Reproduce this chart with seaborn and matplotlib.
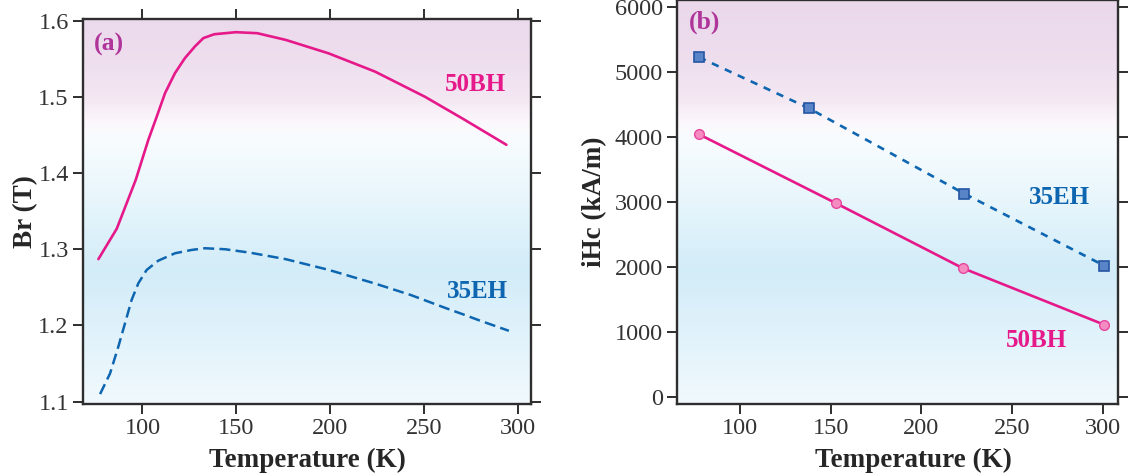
import numpy as np
import pandas as pd
import matplotlib
matplotlib.use("Agg")
import matplotlib.pyplot as plt
import seaborn as sns

# ---------------- data ----------------
# (a) Br vs temperature
br_50bh_T = [76.5, 86.3, 96.4, 103.1, 107.6, 112.0, 117.3, 122.6, 127.9, 132.4, 138.2, 149.7,
             161.1, 176.3, 199.1, 223.9, 250.5, 271.5, 293.9]
br_50bh = [1.287, 1.327, 1.391, 1.4434, 1.474, 1.5047, 1.531, 1.5507, 1.5659, 1.5769, 1.582, 1.5847,
           1.5834, 1.5746, 1.557, 1.533, 1.500, 1.470, 1.437]
br_35eh_T = [77.4, 82.7, 87.1, 90.7, 94.2, 97.8, 102.2, 108.4, 117.3, 126.2, 133.3, 144, 157.3,
             176.3, 199.1, 223.9, 242.9, 261.9, 271.5, 279.1, 295.2]
br_35eh = [1.110, 1.137, 1.172, 1.203, 1.2335, 1.2554, 1.2728, 1.285, 1.2947, 1.2991, 1.3013, 1.300,
           1.2955, 1.287, 1.273, 1.255, 1.240, 1.2225, 1.214, 1.207, 1.193]

# (b) iHc vs temperature
ihc_35eh_T = [77.5, 138, 223.5, 300.6]
ihc_35eh = [5230, 4445, 3130, 2020]
ihc_50bh_T = [77.5, 153, 222.8, 300.6]
ihc_50bh = [4043, 2980, 1980, 1110]

x_ticks = [100, 150, 200, 250, 300]
br_ticks = [1.1, 1.2, 1.3, 1.4, 1.5, 1.6]
ihc_ticks = [0, 1000, 2000, 3000, 4000, 5000, 6000]

# ---------------- style ----------------
sns.set_style("ticks")
plt.rcParams['font.family'] = ['Liberation Serif', 'DejaVu Serif']

PINK = "#e6198a"
BLUE = "#0e66b0"
PURPLE = "#b0359a"
SPINE = "#2e2e2e"

W, H = 1128, 476
fig = plt.figure(figsize=(W / 100, H / 100), dpi=100)

def axes_px(x0, x1, y_top, y_bot):
    return fig.add_axes([x0 / W, 1 - y_bot / H, (x1 - x0) / W, (y_bot - y_top) / H])

axA = axes_px(83, 531, 19, 404)
axB = axes_px(677, 1118, 0, 404)

# background vertical gradient (figure pixel rows -> colour)
stops_px = [0, 60, 100, 122, 140, 200, 270, 340, 404]
stops_rgb = [(234, 216, 234), (238, 222, 238), (244, 232, 243), (252, 248, 252),
             (248, 252, 254), (232, 246, 252), (210, 236, 248), (226, 243, 251), (241, 249, 253)]

def gradient(ax, y_top, y_bot):
    rows = np.linspace(y_top, y_bot, 300)
    arr = np.zeros((300, 1, 3))
    for c in range(3):
        arr[:, 0, c] = np.interp(rows, stops_px, [s[c] for s in stops_rgb]) / 255
    ax.imshow(arr, extent=[0, 1, 0, 1], transform=ax.transAxes, aspect='auto',
              zorder=0, interpolation='bilinear')

gradient(axA, 19, 404)
gradient(axB, 0, 404)

TICK_FS = 17.5
LABEL_FS = 19.5
ANN_FS = 18

# ---------------- panel (a) ----------------
dfa1 = pd.DataFrame({"T": br_50bh_T, "Br": br_50bh})
dfa2 = pd.DataFrame({"T": br_35eh_T, "Br": br_35eh})
sns.lineplot(data=dfa1, x="T", y="Br", ax=axA, color=PINK, lw=1.9, sort=False, zorder=3)
sns.lineplot(data=dfa2, x="T", y="Br", ax=axA, color=BLUE, lw=1.8, sort=False, zorder=3,
             linestyle=(0, (4.4, 2.1)))
axA.set_xlim(68.3, 307)
axA.set_ylim(1.097, 1.602)
axA.set_xticks(x_ticks)
axA.set_yticks(br_ticks)
axA.set_yticklabels([f"{v:.1f}" for v in br_ticks])
axA.set_xlabel("Temperature (K)", fontsize=LABEL_FS, fontweight='bold')
axA.set_ylabel("Br (T)", fontsize=LABEL_FS, fontweight='bold')
axA.xaxis.set_label_coords(0.5, -0.1135)
axA.yaxis.set_label_coords(-0.100, 0.5)
axA.text(74, 1.568, "(a)", color=PURPLE, fontsize=18.5, fontweight='bold', va='center', ha='left')
axA.text(261, 1.5156, "50BH", color=PINK, fontsize=ANN_FS, fontweight='bold', va='center', ha='left')
axA.text(262, 1.2444, "35EH", color=BLUE, fontsize=ANN_FS, fontweight='bold', va='center', ha='left')

# ---------------- panel (b) ----------------
dfb1 = pd.DataFrame({"T": ihc_35eh_T, "iHc": ihc_35eh})
dfb2 = pd.DataFrame({"T": ihc_50bh_T, "iHc": ihc_50bh})
sns.lineplot(data=dfb1, x="T", y="iHc", ax=axB, color=BLUE, lw=1.9, zorder=3,
             linestyle=(0, (2.8, 2.6)), marker='s', markersize=7.5,
             markerfacecolor="#5a84c8", markeredgecolor="#2456a2", markeredgewidth=1.2)
sns.lineplot(data=dfb2, x="T", y="iHc", ax=axB, color=PINK, lw=1.9, zorder=3,
             marker='o', markersize=7,
             markerfacecolor="#f48cc2", markeredgecolor="#e8479e", markeredgewidth=1.0)
axB.set_xlim(65.4, 308.3)
axB.set_ylim(-113, 6112)
axB.set_xticks(x_ticks)
axB.set_yticks(ihc_ticks)
axB.set_xlabel("Temperature (K)", fontsize=LABEL_FS, fontweight='bold')
axB.set_ylabel("iHc (kA/m)", fontsize=LABEL_FS, fontweight='bold')
axB.xaxis.set_label_coords(0.537, -0.1135 * 385 / 404)
axB.yaxis.set_label_coords(-0.158, 0.5)
axB.text(71.7, 5773, "(b)", color=PURPLE, fontsize=18.5, fontweight='bold', va='center', ha='left')
axB.text(259.2, 3076, "35EH", color=BLUE, fontsize=ANN_FS, fontweight='bold', va='center', ha='left')
axB.text(246.7, 873, "50BH", color=PINK, fontsize=ANN_FS, fontweight='bold', va='center', ha='left')

for ax in (axA, axB):
    for s in ax.spines.values():
        s.set_visible(True)
        s.set_color(SPINE)
        s.set_linewidth(1.7)
        s.set_zorder(5)
    ax.tick_params(axis='both', which='both', direction='out', length=7.2, width=1.4,
                   color=SPINE, labelsize=TICK_FS, labelcolor="#333333", pad=3,
                   top=True, right=True, labeltop=False, labelright=False)
    ax.grid(False)
    legend = ax.get_legend()
    if legend is not None:
        legend.remove()

fig.savefig("out.png", dpi=100)
